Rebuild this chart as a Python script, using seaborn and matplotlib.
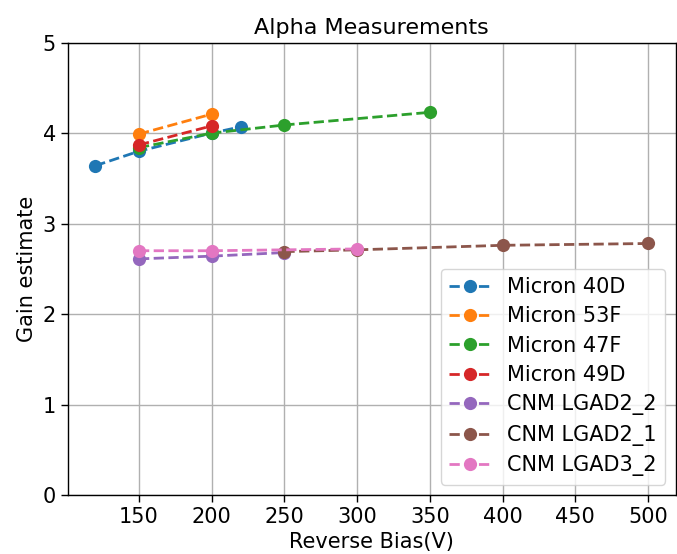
import matplotlib
matplotlib.use("Agg")
import matplotlib.pyplot as plt
import seaborn as sns
import pandas as pd

labels = ["Micron 40D", "Micron 53F", "Micron 47F", "Micron 49D",
          "CNM LGAD2_2", "CNM LGAD2_1", "CNM LGAD3_2"]
bias_40D = [120, 150, 200, 220]
gain_40D = [3.64, 3.80, 4.00, 4.07]
bias_53F = [150, 200]
gain_53F = [3.99, 4.21]
bias_47F = [150, 200, 250, 350]
gain_47F = [3.84, 4.00, 4.09, 4.23]
bias_49D = [150, 200]
gain_49D = [3.87, 4.08]
bias_L22 = [150, 200, 250]
gain_L22 = [2.61, 2.64, 2.68]
bias_L21 = [250, 300, 400, 500]
gain_L21 = [2.69, 2.71, 2.76, 2.78]
bias_L32 = [150, 200, 300]
gain_L32 = [2.70, 2.70, 2.72]

series = [(bias_40D, gain_40D), (bias_53F, gain_53F), (bias_47F, gain_47F),
          (bias_49D, gain_49D), (bias_L22, gain_L22), (bias_L21, gain_L21),
          (bias_L32, gain_L32)]

sns.set_style("white")
plt.rcParams['font.family'] = ['DejaVu Sans']
plt.rcParams['text.color'] = 'black'
plt.rcParams['axes.labelcolor'] = 'black'
plt.rcParams['xtick.color'] = 'black'
plt.rcParams['ytick.color'] = 'black'

fig = plt.figure(figsize=(6.77, 5.54), dpi=100)
ax = fig.add_axes([0.1, 0.1065, 0.898, 0.8165])
colors = sns.color_palette("tab10")

for i, (lab, (xs, ys)) in enumerate(zip(labels, series)):
    df = pd.DataFrame({"x": xs, "y": ys})
    sns.lineplot(data=df, x="x", y="y", ax=ax, color=colors[i], marker="o",
                 markersize=9.5, markeredgewidth=0, linestyle="--",
                 linewidth=2.0, label=lab, sort=False, zorder=3)

ax.set_ylim(0, 5)
ax.set_xticks([150, 200, 250, 300, 350, 400, 450, 500])
ax.set_yticks([0, 1, 2, 3, 4, 5])
ax.grid(True, color="#b0b0b0", linewidth=1.0)
ax.set_axisbelow(True)
for s in ax.spines.values():
    s.set_color("black")
    s.set_linewidth(1.0)
ax.tick_params(axis="both", labelsize=15, length=5, width=1.0,
               direction="out", color="black", labelcolor="black",
               bottom=True, left=True)
ax.set_xlabel("Reverse Bias(V)", fontsize=15, color="black")
ax.set_ylabel("Gain estimate", fontsize=15, color="black")
ax.set_title("Alpha Measurements", fontsize=16, color="black")
leg = ax.legend(loc="lower right", fontsize=15, frameon=True,
                handlelength=2.0, borderpad=0.4, labelspacing=0.45)
leg.get_frame().set_edgecolor("#cccccc")
for t in leg.get_texts():
    t.set_color("black")

fig.savefig("out.png", dpi=100)
